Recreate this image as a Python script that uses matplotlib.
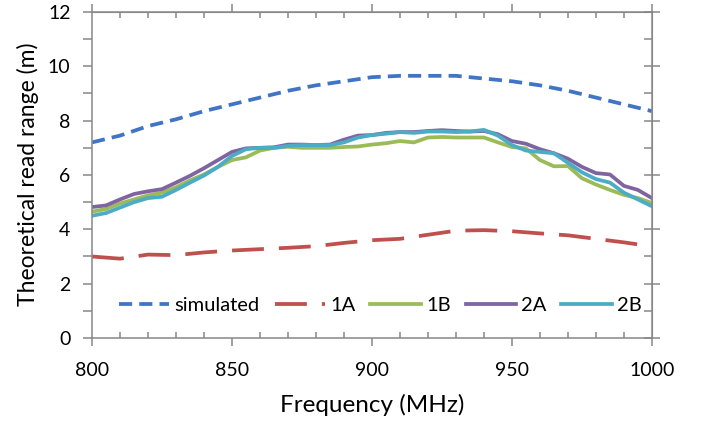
import matplotlib.pyplot as plt
import numpy as np

# frequency grids (MHz)
freq_sim = np.arange(800, 1001, 10)
freq_meas = np.arange(800, 1001, 5)

# simulated read range (m), 10 MHz steps
simulated = [7.2, 7.45, 7.8, 8.05, 8.35, 8.6, 8.85, 9.1, 9.3, 9.45, 9.6,
             9.65, 9.65, 9.65, 9.55, 9.45, 9.3, 9.1, 8.85, 8.6, 8.35]

# tag 1A, 10 MHz steps
tag_1a = [3.0, 2.92, 3.07, 3.05, 3.15, 3.22, 3.27, 3.32, 3.38, 3.5, 3.6,
          3.65, 3.8, 3.95, 3.97, 3.93, 3.85, 3.78, 3.65, 3.52, 3.37]

# tags 1B, 2A, 2B, 5 MHz steps
tag_1b = [4.65, 4.75, 4.95, 5.1, 5.25, 5.35, 5.55, 5.8, 6.02, 6.3, 6.55,
          6.65, 6.9, 7.0, 7.04, 7.0, 7.0, 7.0, 7.03, 7.05, 7.12,
          7.17, 7.25, 7.2, 7.38, 7.4, 7.38, 7.38, 7.38, 7.2, 7.03,
          6.98, 6.55, 6.32, 6.33, 5.88, 5.65, 5.45, 5.27, 5.15, 4.97]
tag_2a = [4.82, 4.88, 5.1, 5.3, 5.4, 5.48, 5.72, 5.97, 6.25, 6.55, 6.85,
          6.98, 7.0, 7.02, 7.12, 7.12, 7.1, 7.12, 7.3, 7.45, 7.47,
          7.55, 7.58, 7.58, 7.62, 7.65, 7.62, 7.6, 7.62, 7.5, 7.25,
          7.15, 6.95, 6.8, 6.6, 6.3, 6.07, 6.02, 5.6, 5.45, 5.15]
tag_2b = [4.5, 4.6, 4.8, 5.0, 5.15, 5.2, 5.45, 5.72, 5.98, 6.3, 6.7,
          6.95, 7.0, 7.0, 7.07, 7.1, 7.1, 7.1, 7.2, 7.38, 7.47,
          7.52, 7.58, 7.55, 7.6, 7.6, 7.58, 7.6, 7.66, 7.45, 7.1,
          6.9, 6.85, 6.8, 6.45, 6.1, 5.85, 5.72, 5.35, 5.1, 4.85]

plt.rcParams['font.family'] = ['Lato', 'DejaVu Sans']

fig = plt.figure(figsize=(7.04, 4.25), dpi=100)
ax = fig.add_axes([0.1307, 0.2047, 0.7953, 0.7671])

lw = 2.7
ax.plot(freq_sim, simulated, color='#3F74C6', lw=lw, dashes=(3.5, 1.9), label='simulated')
ax.plot(freq_sim, tag_1a, color='#C0504D', lw=lw, dashes=(8.5, 4.0), label='1A')
ax.plot(freq_meas, tag_1b, color='#9BBB59', lw=lw, label='1B')
ax.plot(freq_meas, tag_2a, color='#8064A2', lw=lw, label='2A')
ax.plot(freq_meas, tag_2b, color='#4BACC6', lw=lw, label='2B')

ax.set_xlim(800, 1000)
ax.set_ylim(0, 12)
ax.set_xticks(np.arange(800, 1001, 50))
ax.set_xticks(np.arange(800, 1001, 10), minor=True)
ax.set_yticks(np.arange(0, 13, 2))
ax.set_yticks(np.arange(0, 13, 1), minor=True)

grey = '#888888'
for s in ax.spines.values():
    s.set_color(grey)
    s.set_linewidth(1.1)

ax.tick_params(axis='x', which='major', direction='out', length=6, width=1.1,
               color=grey, labelsize=14, pad=11)
ax.tick_params(axis='x', which='minor', direction='in', length=4, width=1.1, color=grey)
ax.tick_params(axis='y', which='both', direction='out', length=6.5, width=1.1,
               color=grey, labelsize=14, pad=9)

# mirrored ticks on top and right
top = ax.secondary_xaxis('top')
top.set_xticks(np.arange(800, 1001, 50))
top.set_xticks(np.arange(800, 1001, 10), minor=True)
top.tick_params(which='major', direction='out', length=6, width=1.1, color=grey, labeltop=False)
top.tick_params(which='minor', direction='in', length=4, width=1.1, color=grey)
top.spines['top'].set_color(grey)

right = ax.secondary_yaxis('right')
right.set_yticks(np.arange(0, 13, 2))
right.set_yticks(np.arange(0, 13, 1), minor=True)
right.tick_params(which='major', direction='inout', length=11, width=1.1, color=grey, labelright=False)
right.tick_params(which='minor', direction='in', length=5.5, width=1.1, color=grey)
right.spines['right'].set_color(grey)

ax.set_xlabel('Frequency (MHz)', fontsize=17.5, va='center')
ax.xaxis.set_label_coords(0.5, -0.205)
ax.set_ylabel('Theoretical read range (m)', fontsize=16.5, va='center')
ax.yaxis.set_label_coords(-0.114, 0.503)

ax.legend(loc='center', bbox_to_anchor=(0.515, 0.1), ncol=5, frameon=False,
          fontsize=14.5, handlelength=2.5, columnspacing=0.75, handletextpad=0.25)

fig.savefig('out.png', dpi=100)
